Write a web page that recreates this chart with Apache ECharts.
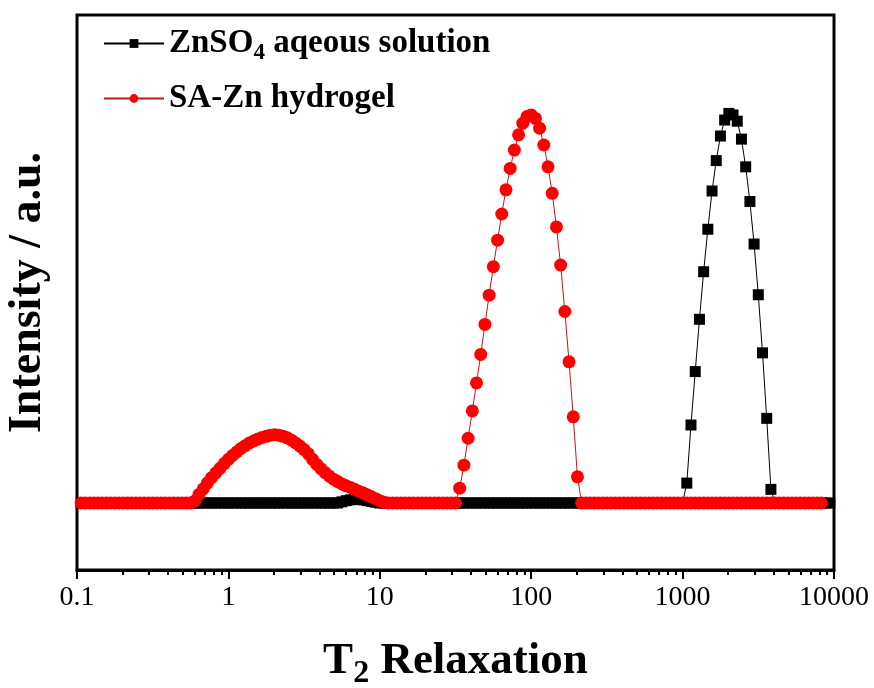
<!DOCTYPE html>
<html>
<head>
<meta charset="utf-8">
<title>T2 Relaxation</title>
<script src="https://cdn.jsdelivr.net/npm/echarts@6/dist/echarts.min.js"></script>
<style>
  html, body { margin: 0; padding: 0; background: #fff; }
  #chart { width: 874px; height: 688px; }
</style>
</head>
<body>
<div id="chart"></div>
<script>
// T2 relaxation times (ms), log-spaced sampling grid, 36 points per decade
const t2Times = [
  0.1066, 0.1136, 0.1212, 0.1292, 0.1377, 0.1468, 0.1565, 0.1668, 0.1778, 0.1896, 0.2021, 0.2154, 0.2297, 0.2448, 0.2610, 0.2783, 0.2966, 0.3162, 0.3371, 0.3594, 0.3831, 0.4084, 0.4354, 0.4642, 0.4948, 0.5275, 0.5623, 0.5995, 0.6391, 0.6813, 0.7263, 0.7743, 0.8254, 0.8799, 0.9380,
  1, 1.066, 1.136, 1.212, 1.292, 1.377, 1.468, 1.565, 1.668, 1.778, 1.896, 2.021, 2.154, 2.297, 2.448, 2.610, 2.783, 2.966, 3.162, 3.371, 3.594, 3.831, 4.084, 4.354, 4.642, 4.948, 5.275, 5.623, 5.995, 6.391, 6.813, 7.263, 7.743, 8.254, 8.799, 9.380,
  10, 10.66, 11.36, 12.12, 12.92, 13.77, 14.68, 15.65, 16.68, 17.78, 18.96, 20.21, 21.54, 22.97, 24.48, 26.10, 27.83, 29.66, 31.62, 33.71, 35.94, 38.31, 40.84, 43.54, 46.42, 49.48, 52.75, 56.23, 59.95, 63.91, 68.13, 72.63, 77.43, 82.54, 87.99, 93.80,
  100, 106.6, 113.6, 121.2, 129.2, 137.7, 146.8, 156.5, 166.8, 177.8, 189.6, 202.1, 215.4, 229.7, 244.8, 261.0, 278.3, 296.6, 316.2, 337.1, 359.4, 383.1, 408.4, 435.4, 464.2, 494.8, 527.5, 562.3, 599.5, 639.1, 681.3, 726.3, 774.3, 825.4, 879.9, 938.0,
  1000, 1066, 1136, 1212, 1292, 1377, 1468, 1565, 1668, 1778, 1896, 2021, 2154, 2297, 2448, 2610, 2783, 2966, 3162, 3371, 3594, 3831, 4084, 4354, 4642, 4948, 5275, 5623, 5995, 6391, 6813, 7263, 7743, 8254, 8799, 9380
];

// ZnSO4 aqueous solution: normalised T2 amplitude
const znso4Intensity = [
  0, 0, 0, 0, 0, 0, 0, 0, 0, 0, 0, 0, 0, 0, 0, 0, 0, 0, 0, 0, 0, 0, 0, 0, 0, 0, 0, 0, 0, 0, 0, 0, 0, 0, 0,
  0, 0, 0, 0, 0, 0, 0, 0, 0, 0, 0, 0, 0, 0, 0, 0, 0, 0, 0, 0, 0, 0, 0, 0, 0, 0, 0, 0.003, 0.006, 0.008, 0.009, 0.009, 0.008, 0.006, 0.004, 0.002,
  0, 0, 0, 0, 0, 0, 0, 0, 0, 0, 0, 0, 0, 0, 0, 0, 0, 0, 0, 0, 0, 0, 0, 0, 0, 0, 0, 0, 0, 0, 0, 0, 0, 0, 0, 0,
  0, 0, 0, 0, 0, 0, 0, 0, 0, 0, 0, 0, 0, 0, 0, 0, 0, 0, 0, 0, 0, 0, 0, 0, 0, 0, 0, 0, 0, 0, 0, 0, 0, 0, 0, 0,
  0, 0.051, 0.200, 0.337, 0.471, 0.593, 0.702, 0.800, 0.878, 0.941, 0.982, 0.999, 0.995, 0.979, 0.933, 0.862, 0.773, 0.664, 0.534, 0.385, 0.217, 0.035, 0, 0, 0, 0, 0, 0, 0, 0, 0, 0, 0, 0, 0, 0
];

// SA-Zn hydrogel: normalised T2 amplitude
const hydrogelIntensity = [
  0, 0, 0, 0, 0, 0, 0, 0, 0, 0, 0, 0, 0, 0, 0, 0, 0, 0, 0, 0, 0, 0, 0, 0, 0, 0, 0, 0.005, 0.022, 0.036, 0.051, 0.065, 0.077, 0.089, 0.101,
  0.112, 0.122, 0.131, 0.140, 0.147, 0.154, 0.159, 0.164, 0.168, 0.171, 0.174, 0.175, 0.174, 0.171, 0.167, 0.161, 0.154, 0.146, 0.137, 0.126, 0.112, 0.099, 0.088, 0.078, 0.069, 0.061, 0.055, 0.049, 0.044, 0.040, 0.035, 0.030, 0.026, 0.021, 0.016, 0.011,
  0.006, 0.002, 0, 0, 0, 0, 0, 0, 0, 0, 0, 0, 0, 0, 0, 0, 0, 0, 0, 0.038, 0.097, 0.166, 0.236, 0.308, 0.381, 0.458, 0.533, 0.606, 0.674, 0.741, 0.803, 0.858, 0.905, 0.944, 0.974, 0.991,
  0.995, 0.986, 0.961, 0.918, 0.862, 0.794, 0.708, 0.610, 0.491, 0.362, 0.221, 0.067, 0, 0, 0, 0, 0, 0, 0, 0, 0, 0, 0, 0, 0, 0, 0, 0, 0, 0, 0, 0, 0, 0,
  0, 0, 0, 0, 0, 0, 0, 0, 0, 0, 0, 0, 0, 0, 0, 0, 0, 0, 0, 0, 0, 0, 0, 0, 0, 0, 0, 0, 0, 0, 0, 0, 0, 0, 0, 0
];

// Axis ticks and labels
const majorTicks = [0.1, 1, 10, 100, 1000, 10000];
const xTickLabels = ['0.1', '1', '10', '100', '1000', '10000'];
const minorTicks = [
  0.2, 0.3, 0.4, 0.5, 0.6, 0.7, 0.8, 0.9,
  2, 3, 4, 5, 6, 7, 8, 9,
  20, 30, 40, 50, 60, 70, 80, 90,
  200, 300, 400, 500, 600, 700, 800, 900,
  2000, 3000, 4000, 5000, 6000, 7000, 8000, 9000
];

const seriesNames = ['ZnSO4 aqeous solution', 'SA-Zn hydrogel'];

const FONT = '"Liberation Serif", "Times New Roman", serif';

const chart = echarts.init(document.getElementById('chart'), null, { renderer: 'canvas' });

function pairs(values) {
  return t2Times.map((t, i) => [t, values[i]]);
}

const option = {
  animation: false,
  backgroundColor: '#fff',
  grid: {
    left: 77, right: 40, top: 15, bottom: 118,
    outerBoundsMode: 'none',
    containLabel: false,
    show: true, borderColor: '#000', borderWidth: 3, backgroundColor: 'transparent'
  },
  legend: {
    orient: 'vertical',
    left: 98, top: 22,
    itemWidth: 60, itemHeight: 11, itemGap: 17,
    data: seriesNames,
    textStyle: {
      fontFamily: FONT, fontSize: 33, fontWeight: 'bold', color: '#000',
      rich: {
        b: { fontFamily: FONT, fontSize: 33, fontWeight: 'bold', color: '#000', lineHeight: 43 },
        sub: { fontFamily: FONT, fontSize: 23, fontWeight: 'bold', color: '#000', verticalAlign: 'bottom' }
      }
    },
    formatter: function (name) {
      if (name === seriesNames[0]) return '{b|ZnSO}{sub|4}{b| aqeous solution}';
      return '{b|' + name + '}';
    }
  },
  xAxis: [
    {
      type: 'log', logBase: 10, min: 0.1, max: 10000,
      position: 'bottom',
      axisLine: { show: true, onZero: false, lineStyle: { color: '#000', width: 3 } },
      axisTick: { show: true, inside: false, length: 9, customValues: majorTicks, lineStyle: { color: '#000', width: 2 } },
      axisLabel: {
        show: true, margin: 14, fontFamily: FONT, fontSize: 28, color: '#000',
        customValues: majorTicks,
        formatter: function (v) {
          const k = Math.round(Math.log10(v)) + 1;
          return xTickLabels[k] !== undefined ? xTickLabels[k] : String(v);
        }
      },
      splitLine: { show: false },
      minorTick: { show: false },
      name: '{t|T}{s|2}{t| Relaxation}',
      nameLocation: 'middle',
      nameGap: 62,
      nameTextStyle: {
        rich: {
          t: { fontFamily: FONT, fontSize: 45, fontWeight: 'bold', color: '#000', lineHeight: 58 },
          s: { fontFamily: FONT, fontSize: 32, fontWeight: 'bold', color: '#000', verticalAlign: 'bottom' }
        }
      }
    },
    {
      type: 'log', logBase: 10, min: 0.1, max: 10000,
      position: 'bottom',
      axisLine: { show: false, onZero: false },
      axisTick: { show: true, inside: false, length: 5, customValues: minorTicks, lineStyle: { color: '#000', width: 2 } },
      axisLabel: { show: false },
      splitLine: { show: false }
    }
  ],
  yAxis: {
    type: 'value', min: -0.1718, max: 1.2513,
    axisLine: { show: false },
    axisTick: { show: false },
    axisLabel: { show: false },
    splitLine: { show: false },
    name: 'Intensity / a.u.',
    nameLocation: 'middle',
    nameGap: 26,
    nameTextStyle: { fontFamily: FONT, fontSize: 46, fontWeight: 'bold', color: '#000' }
  },
  series: [
    {
      name: seriesNames[0],
      type: 'line',
      xAxisIndex: 0,
      data: pairs(znso4Intensity),
      symbol: 'rect',
      symbolSize: 11,
      showSymbol: true,
      itemStyle: { color: '#000' },
      lineStyle: { color: '#000', width: 1 },
      z: 2
    },
    {
      name: seriesNames[1],
      type: 'line',
      xAxisIndex: 0,
      data: pairs(hydrogelIntensity),
      symbol: 'circle',
      symbolSize: 13,
      showSymbol: true,
      itemStyle: { color: '#ff0000' },
      lineStyle: { color: '#c01818', width: 1 },
      z: 3
    }
  ]
};

chart.setOption(option);
</script>
</body>
</html>
